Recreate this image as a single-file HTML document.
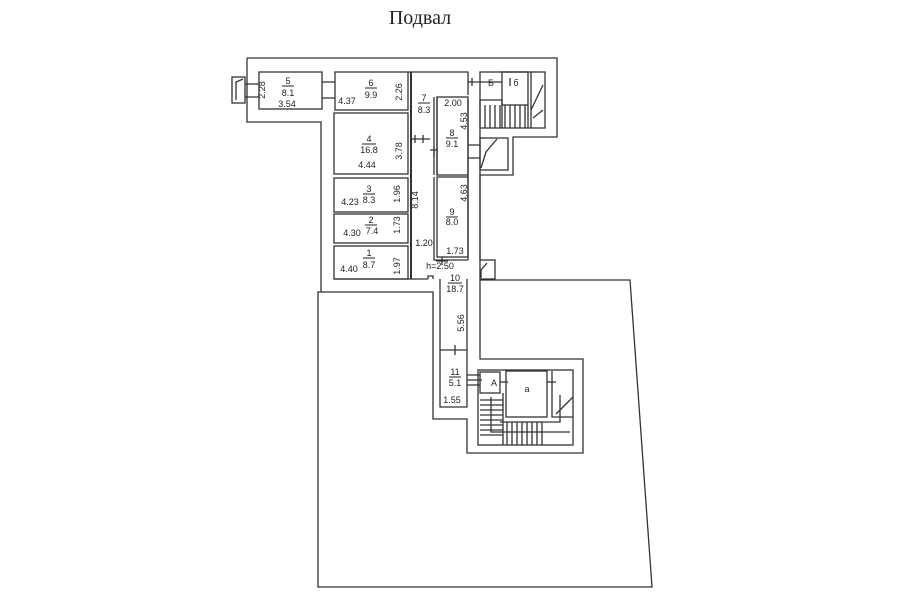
<!DOCTYPE html>
<html><head><meta charset="utf-8"><style>
html,body{margin:0;padding:0;background:#fff;}
svg{display:block;}
text{font-family:"Liberation Sans",sans-serif;font-size:9px;fill:#222;}
</style></head><body>
<svg width="900" height="604" viewBox="0 0 900 604">
<text x="420" y="24" text-anchor="middle" style="font-family:'Liberation Serif','DejaVu Serif',serif;font-size:20px;">Подвал</text>
<g fill="none" stroke="#333" stroke-width="1.3">
<!-- outer upper building -->
<path d="M247 58 H557 V137 H513 V175 H480 V260"/>
<path d="M247 58 V122 H321 V292"/>
<!-- big outline -->
<path d="M318 292 V587 H652 L630 280 H480 V359 H583 V453 H467 V419 H433 V292 Z"/>
<!-- left small door -->
<rect x="232" y="77" width="13" height="26"/>
<path d="M236 100 V82 L243 79"/>
<path d="M245 84 H259 M245 97 H259"/>
<!-- room 5 -->
<rect x="259" y="72" width="63" height="37"/>
<path d="M322 82 H335 M322 98 H335"/>
<!-- rooms left column -->
<rect x="335" y="72" width="73" height="38"/>
<rect x="334" y="113" width="74" height="61"/>
<rect x="334" y="178" width="74" height="34"/>
<rect x="334" y="214" width="74" height="29"/>
<rect x="334" y="246" width="74" height="33"/>
<path d="M411 72 V279" stroke-width="2"/>
<path d="M334 279 H428 M428 279 V276 H433 V279"/>
<!-- corridor 7 region -->
<path d="M408 72 H468 V95"/>
<path d="M434 97 V175 M437 97 V175"/>
<rect x="437" y="97" width="31" height="78"/>
<rect x="437" y="177" width="31" height="80"/>
<path d="M434 177 V260 H468"/>
<path d="M468 100 V260 M480 100 V260"/>
<path d="M411 139 H430 M415 135 V143 M423 135 V143 M434 146 V157 M430 150 H438"/>
<!-- stairs top right -->
<rect x="480" y="72" width="65" height="56"/>
<rect x="502" y="72" width="26" height="33"/>
<path d="M468 82 H502 M472 78 V86 M510 78 V86"/>
<path d="M480 100 H502 V128 M485 105 V128 M490 105 V128 M495 105 V128 M500 105 V128 M505 105 V128 M510 105 V128 M515 105 V128 M520 105 V128 M525 105 V128 M528 105 V128"/>
<path d="M531 72 V128 M531 110 L543 85 M533 118 L543 110"/>
<!-- door box -->
<rect x="480" y="138" width="28" height="32"/>
<path d="M481 168 L486 152 L497 139"/>
<path d="M468 145 H480 M468 158 H480"/>
<!-- door near 10 -->
<rect x="480" y="260" width="15" height="19"/>
<path d="M481 278 V270 L487 263"/>
<!-- corridor 10/11 -->
<path d="M440 279 V407 H467 V359 M467 279 V359"/>
<path d="M440 350 H467 M455 345 V355"/>
<path d="M442 257 V265 M436 261 H448"/>
<!-- lower stairs -->
<rect x="478" y="370" width="95" height="75"/>
<rect x="480" y="372" width="20" height="21"/>
<rect x="506" y="371" width="41" height="46"/>
<path d="M552 371 V417 H573"/>
<path d="M467 375 H480 M467 385 H480 M467 380 H482 M500 382 H508 M547 382 H556"/>
<path d="M480 400 H503 M480 405 H503 M480 410 H503 M480 415 H503 M480 420 H503 M480 425 H503 M480 430 H503 M480 435 H503 M503 393 V445 M491 397 V432 H570"/>
<path d="M500 422 H560 V395 M507 422 V445 M512 422 V445 M517 422 V445 M522 422 V445 M527 422 V445 M532 422 V445 M537 422 V445 M542 422 V445"/>
<path d="M556 414 L573 397"/>
</g>
<g>
<text x="288" y="84" text-anchor="middle">5</text><path d="M282 86 H294" stroke="#222"/><text x="288" y="96" text-anchor="middle">8.1</text>
<text x="287" y="107" text-anchor="middle" font-size="8">3.54</text>
<text transform="translate(265,90) rotate(-90)" text-anchor="middle" font-size="8">2.28</text>
<text x="371" y="86" text-anchor="middle">6</text><path d="M365 88 H377" stroke="#222"/><text x="371" y="98" text-anchor="middle">9.9</text>
<text x="347" y="104" text-anchor="middle" font-size="8">4.37</text>
<text transform="translate(402,92) rotate(-90)" text-anchor="middle" font-size="8">2.26</text>
<text x="424" y="101" text-anchor="middle">7</text><path d="M418 103 H430" stroke="#222"/><text x="424" y="113" text-anchor="middle">8.3</text>
<text x="453" y="106" text-anchor="middle" font-size="8">2.00</text>
<text transform="translate(467,121) rotate(-90)" text-anchor="middle" font-size="8">4.53</text>
<text x="452" y="136" text-anchor="middle">8</text><path d="M446 138 H458" stroke="#222"/><text x="452" y="147" text-anchor="middle">9.1</text>
<text x="369" y="142" text-anchor="middle">4</text><path d="M362 144 H376" stroke="#222"/><text x="369" y="153" text-anchor="middle">16.8</text>
<text transform="translate(402,151) rotate(-90)" text-anchor="middle" font-size="8">3.78</text>
<text x="367" y="168" text-anchor="middle" font-size="8">4.44</text>
<text x="369" y="192" text-anchor="middle">3</text><path d="M363 194 H375" stroke="#222"/><text x="369" y="203" text-anchor="middle">8.3</text>
<text x="350" y="205" text-anchor="middle" font-size="8">4.23</text>
<text transform="translate(400,194) rotate(-90)" text-anchor="middle" font-size="8">1.96</text>
<text transform="translate(418,200) rotate(-90)" text-anchor="middle" font-size="8">8.14</text>
<text x="371" y="223" text-anchor="middle">2</text><path d="M365 225 H377" stroke="#222"/><text x="372" y="234" text-anchor="middle">7.4</text>
<text x="352" y="236" text-anchor="middle" font-size="8">4.30</text>
<text transform="translate(400,225) rotate(-90)" text-anchor="middle" font-size="8">1.73</text>
<text x="424" y="246" text-anchor="middle" font-size="8">1.20</text>
<text x="452" y="215" text-anchor="middle">9</text><path d="M446 217 H458" stroke="#222"/><text x="452" y="225" text-anchor="middle">8.0</text>
<text transform="translate(467,193) rotate(-90)" text-anchor="middle" font-size="8">4.63</text>
<text x="455" y="254" text-anchor="middle" font-size="8">1.73</text>
<text x="369" y="256" text-anchor="middle">1</text><path d="M363 258 H375" stroke="#222"/><text x="369" y="268" text-anchor="middle">8.7</text>
<text x="349" y="272" text-anchor="middle" font-size="8">4.40</text>
<text transform="translate(400,266) rotate(-90)" text-anchor="middle" font-size="8">1.97</text>
<text x="440" y="269" text-anchor="middle" font-size="8">h=2.50</text>
<text x="455" y="281" text-anchor="middle">10</text><path d="M448 283 H462" stroke="#222"/><text x="455" y="292" text-anchor="middle">18.7</text>
<text transform="translate(464,323) rotate(-90)" text-anchor="middle" font-size="8">5.56</text>
<text x="455" y="375" text-anchor="middle">11</text><path d="M449 377 H461" stroke="#222"/><text x="455" y="386" text-anchor="middle">5.1</text>
<text x="452" y="403" text-anchor="middle" font-size="8">1.55</text>
<text x="494" y="386" text-anchor="middle" font-size="10">А</text>
<text x="527" y="392" text-anchor="middle" font-size="10">a</text>
<text x="491" y="86" text-anchor="middle" font-size="10">Б</text>
<text x="516" y="86" text-anchor="middle" font-size="10">б</text>
</g>
</svg>
</body></html>
